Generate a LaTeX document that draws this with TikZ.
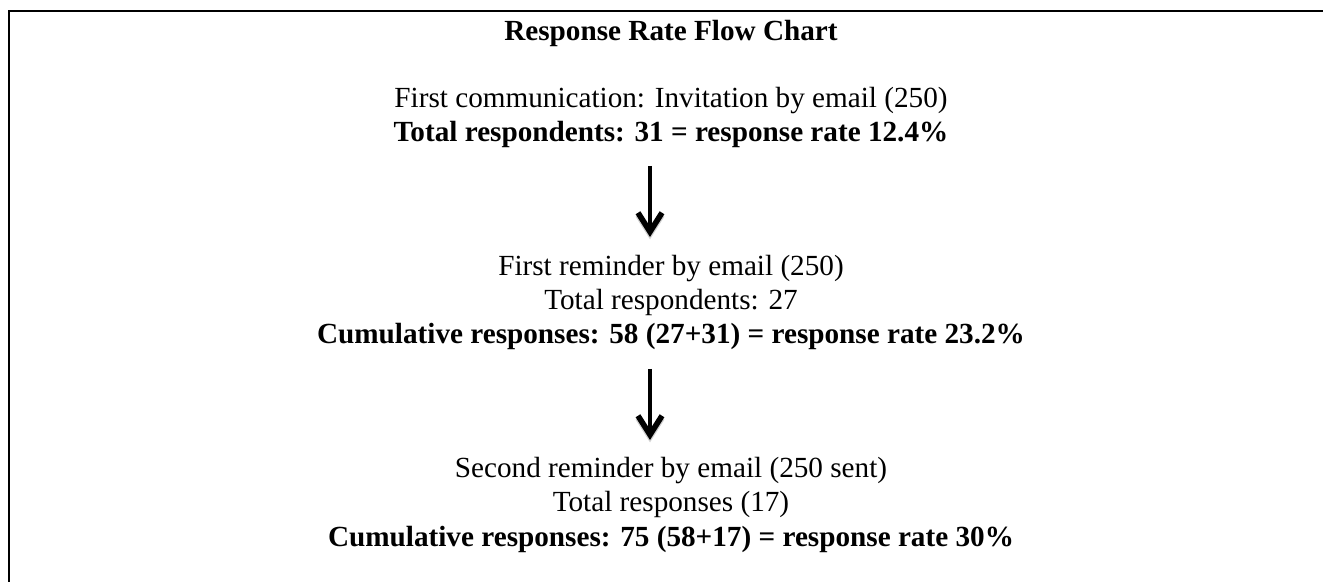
\documentclass[tikz,border=0pt]{standalone}
\usepackage{fontspec}
\setmainfont{Liberation Serif}
\usetikzlibrary{arrows.meta}
\begin{document}
\begin{tikzpicture}[x=0.5pt,y=-0.5pt,
  txt/.style={anchor=base,inner sep=0pt,font=\fontsize{14.6pt}{16.8pt}\selectfont},
  btxt/.style={txt,font=\fontsize{14.6pt}{16.8pt}\selectfont\bfseries},
  frame/.style={line width=1.4pt},
  flow/.style={line width=2pt,-{Straight Barb[length=9.5pt,width=12pt,line width=2.8pt]}},
  flowshadow/.style={flow,draw=black!18,transform canvas={yshift=-1.2pt}}]
\useasboundingbox (0,0) rectangle (1323,582);
% open frame along the top and left edges
\draw[frame] (9,600) -- (9,11) -- (1340,11);

\node[btxt] (title) at (671,41) {Response Rate Flow Chart};

% first communication
\node[txt]  (c1a) at (671,108)   {First communication: Invitation by email (250)};
\node[btxt] (c1b) at (671,141.5) {Total respondents: 31 = response rate 12.4\%};

% first reminder
\node[txt]  (c2a) at (671,276) {First reminder by email (250)};
\node[txt]  (c2b) at (671,310) {Total respondents: 27};
\node[btxt] (c2c) at (671,344) {Cumulative responses: 58 (27+31) = response rate 23.2\%};

% second reminder
\node[txt]  (c3a) at (671,478) {Second reminder by email (250 sent)};
\node[txt]  (c3b) at (671,512) {Total responses (17)};
\node[btxt] (c3c) at (671,546) {Cumulative responses: 75 (58+17) = response rate 30\%};

% arrows between the stages, each with a faint drop shadow
\coordinate (a1s) at (650,166);
\coordinate (a1e) at (650,237);
\coordinate (a2s) at (650,369);
\coordinate (a2e) at (650,440);
\draw[flowshadow] (a1s) -- (a1e);
\draw[flowshadow] (a2s) -- (a2e);
\draw[flow] (a1s) -- (a1e);
\draw[flow] (a2s) -- (a2e);
\end{tikzpicture}
\end{document}
